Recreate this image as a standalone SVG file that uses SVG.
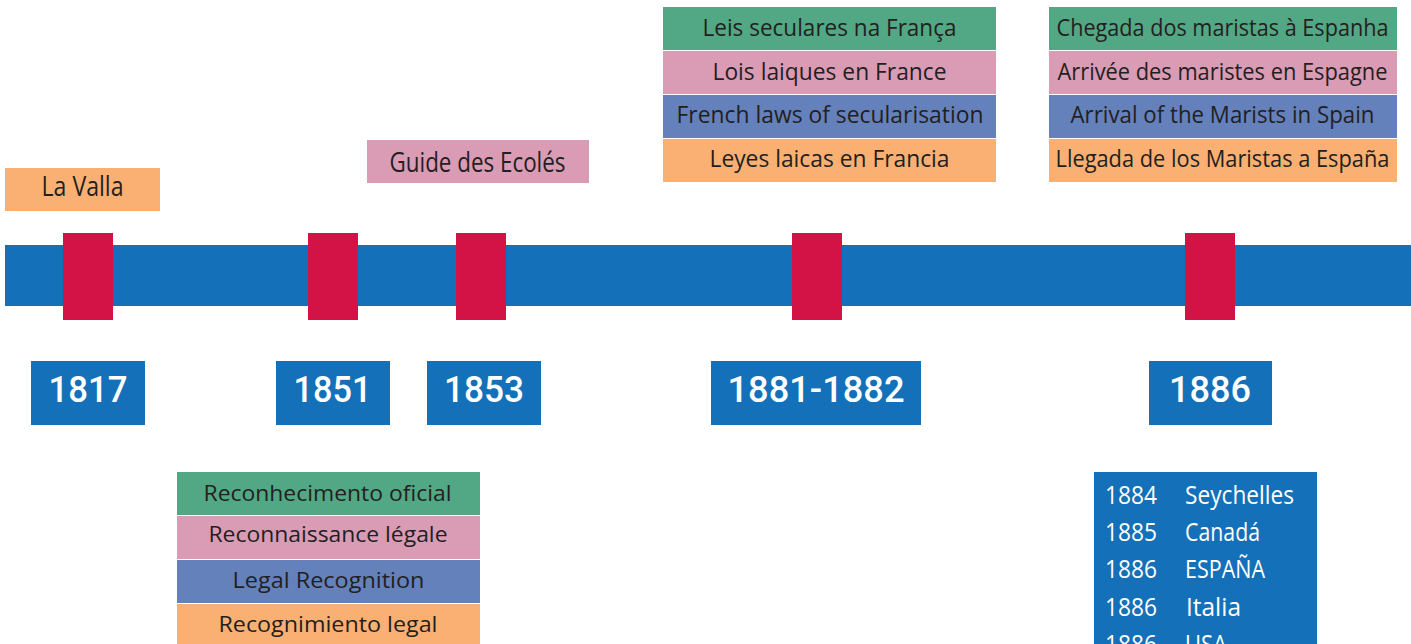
<svg xmlns="http://www.w3.org/2000/svg" width="1411" height="644" viewBox="0 0 1411 644">
  <style>
    .bar { fill: #1470b8; }
    .mark { fill: #d31245; }
    .yearbox { fill: #1470b8; }
    .year { font-family: Roboto, "Liberation Sans", sans-serif; font-weight: 500; font-size: 36px; fill: #ffffff; text-anchor: middle; }
    .g { fill: #52a785; }
    .p { fill: #da9bb5; }
    .b { fill: #6481bc; }
    .o { fill: #f9b072; }
    .lbl { font-family: "Open Sans", "Liberation Sans", sans-serif; fill: #231f20; text-anchor: middle; }
    .big { font-size: 26.5px; }
    .top { font-size: 23px; }
    .bot { font-size: 22.5px; }
    .list { font-family: "Open Sans", "Liberation Sans", sans-serif; font-size: 26px; fill: #ffffff; }
  </style>
  <rect width="1411" height="644" fill="#ffffff"/>

  <g id="timeline">
    <rect class="bar" x="5" y="245" width="1406" height="61"/>
    <rect class="mark" x="63" y="233" width="50" height="87"/>
    <rect class="mark" x="308" y="233" width="50" height="87"/>
    <rect class="mark" x="456" y="233" width="50" height="87"/>
    <rect class="mark" x="792" y="233" width="50" height="87"/>
    <rect class="mark" x="1185" y="233" width="50" height="87"/>
  </g>

  <g id="connectors"></g>

  <g id="year-1817">
    <rect class="yearbox" x="31" y="361" width="114" height="64"/>
    <text class="year" x="88" y="402" textLength="79" lengthAdjust="spacingAndGlyphs">1817</text>
  </g>
  <g id="year-1851">
    <rect class="yearbox" x="276" y="361" width="114" height="64"/>
    <text class="year" x="332.5" y="402" textLength="78" lengthAdjust="spacingAndGlyphs">1851</text>
  </g>
  <g id="year-1853">
    <rect class="yearbox" x="427" y="361" width="114" height="64"/>
    <text class="year" x="484" y="402" textLength="80" lengthAdjust="spacingAndGlyphs">1853</text>
  </g>
  <g id="year-1881-1882">
    <rect class="yearbox" x="711" y="361" width="210" height="64"/>
    <text class="year" x="816" y="402" textLength="177" lengthAdjust="spacingAndGlyphs">1881-1882</text>
  </g>
  <g id="year-1886">
    <rect class="yearbox" x="1149" y="361" width="123" height="64"/>
    <text class="year" x="1210" y="402" textLength="82" lengthAdjust="spacingAndGlyphs">1886</text>
  </g>

  <g id="la-valla">
    <rect class="o" x="5" y="168" width="155" height="43"/>
    <text class="lbl big" x="82.5" y="196" textLength="82" lengthAdjust="spacingAndGlyphs">La Valla</text>
  </g>

  <g id="guide-des-ecoles">
    <rect class="p" x="367" y="140" width="222" height="43"/>
    <text class="lbl big" x="477.5" y="172" textLength="176" lengthAdjust="spacingAndGlyphs">Guide des Ecolés</text>
  </g>

  <g id="secular-laws">
    <rect class="g" x="663" y="7" width="333" height="43"/>
    <rect class="p" x="663" y="51" width="333" height="43"/>
    <rect class="b" x="663" y="95" width="333" height="43"/>
    <rect class="o" x="663" y="139" width="333" height="43"/>
    <text class="lbl top" x="829.5" y="36" textLength="254" lengthAdjust="spacingAndGlyphs">Leis seculares na França</text>
    <text class="lbl top" x="829.5" y="80" textLength="234" lengthAdjust="spacingAndGlyphs">Lois laiques en France</text>
    <text class="lbl top" x="830" y="123" textLength="307" lengthAdjust="spacingAndGlyphs">French laws of secularisation</text>
    <text class="lbl top" x="829.5" y="167" textLength="240" lengthAdjust="spacingAndGlyphs">Leyes laicas en Francia</text>
  </g>

  <g id="arrival-spain">
    <rect class="g" x="1049" y="7" width="348" height="43"/>
    <rect class="p" x="1049" y="51" width="348" height="43"/>
    <rect class="b" x="1049" y="95" width="348" height="43"/>
    <rect class="o" x="1049" y="139" width="348" height="43"/>
    <text class="lbl top" x="1222.5" y="36" textLength="332" lengthAdjust="spacingAndGlyphs">Chegada dos maristas à Espanha</text>
    <text class="lbl top" x="1222.5" y="80" textLength="330" lengthAdjust="spacingAndGlyphs">Arrivée des maristes en Espagne</text>
    <text class="lbl top" x="1222.5" y="123" textLength="304" lengthAdjust="spacingAndGlyphs">Arrival of the Marists in Spain</text>
    <text class="lbl top" x="1222.5" y="167" textLength="334" lengthAdjust="spacingAndGlyphs">Llegada de los Maristas a España</text>
  </g>

  <g id="legal-recognition">
    <rect class="g" x="177" y="472" width="303" height="43"/>
    <rect class="p" x="177" y="516" width="303" height="43"/>
    <rect class="b" x="177" y="560" width="303" height="43"/>
    <rect class="o" x="177" y="604" width="303" height="40"/>
    <text class="lbl bot" x="327.5" y="501" textLength="248" lengthAdjust="spacingAndGlyphs">Reconhecimento oficial</text>
    <text class="lbl bot" x="328" y="542" textLength="239" lengthAdjust="spacingAndGlyphs">Reconnaissance légale</text>
    <text class="lbl bot" x="328.5" y="588" textLength="192" lengthAdjust="spacingAndGlyphs">Legal Recognition</text>
    <text class="lbl bot" x="328" y="632" textLength="219" lengthAdjust="spacingAndGlyphs">Recognimiento legal</text>
  </g>

  <g id="foundations-list">
    <rect class="yearbox" x="1094" y="472" width="223" height="172"/>
    <text class="list" x="1105" y="504" textLength="52" lengthAdjust="spacingAndGlyphs">1884</text>
    <text class="list" x="1185" y="504" textLength="109" lengthAdjust="spacingAndGlyphs">Seychelles</text>
    <text class="list" x="1105" y="541" textLength="52" lengthAdjust="spacingAndGlyphs">1885</text>
    <text class="list" x="1185" y="541" textLength="75" lengthAdjust="spacingAndGlyphs">Canadá</text>
    <text class="list" x="1105" y="578" textLength="52" lengthAdjust="spacingAndGlyphs">1886</text>
    <text class="list" x="1185" y="578" textLength="80" lengthAdjust="spacingAndGlyphs">ESPAÑA</text>
    <text class="list" x="1105" y="616" textLength="52" lengthAdjust="spacingAndGlyphs">1886</text>
    <text class="list" x="1186" y="616" textLength="55" lengthAdjust="spacingAndGlyphs">Italia</text>
    <text class="list" x="1105" y="653" textLength="52" lengthAdjust="spacingAndGlyphs">1886</text>
    <text class="list" x="1185" y="653" textLength="42" lengthAdjust="spacingAndGlyphs">USA</text>
  </g>
</svg>
